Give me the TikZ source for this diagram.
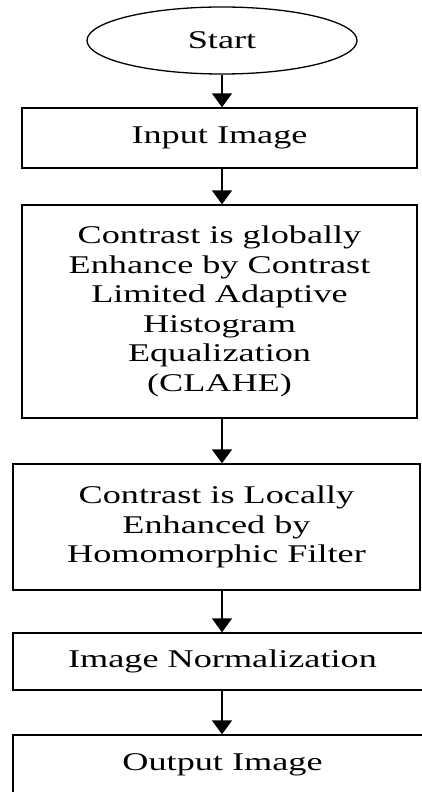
\documentclass[tikz,border=0pt]{standalone}
\usepackage{fontspec}
\setmainfont[FakeStretch=1.42]{Liberation Serif}
\usetikzlibrary{arrows.meta,shapes.geometric}
\begin{document}
\begin{tikzpicture}[x=1pt,y=1pt,
  txt/.style={font=\fontsize{25.5}{29.5}\selectfont, text=black, align=center},
  box/.style={txt, draw=black, line width=1.4pt, rectangle, inner sep=0pt},
  term/.style={txt, draw=black, line width=1.3pt, ellipse, inner sep=0pt},
  arr/.style={draw=black, line width=1.8pt, -{Triangle[width=20pt,length=14pt]}}]
\useasboundingbox (0,0) rectangle (422,-792);
\clip (0,0) rectangle (422,-792);
\node[term, minimum width=270pt, minimum height=67pt] (start) at (222,-40.5) {Start};
\node[box, minimum width=395pt, minimum height=60pt] (input) at (219.5,-138) {Input Image};
\node[box, minimum width=395pt, minimum height=213pt] (clahe) at (219.5,-311.5)
  {Contrast is globally\\Enhance by Contrast\\Limited Adaptive\\Histogram\\Equalization\\(CLAHE)};
\node[box, minimum width=407pt, minimum height=126pt] (homo) at (216.5,-527)
  {Contrast is Locally\\Enhanced by\\Homomorphic Filter};
\node[box, minimum width=419pt, minimum height=57pt] (norm) at (222.5,-661.5) {Image Normalization};
\node[box, minimum width=419pt, minimum height=59pt] (output) at (222.5,-764.5) {Output Image};
\draw[arr] (start.south) -- (start.south |- input.north);
\draw[arr] (input.south -| start.south) -- (start.south |- clahe.north);
\draw[arr] (clahe.south -| start.south) -- (start.south |- homo.north);
\draw[arr] (homo.south -| start.south) -- (start.south |- norm.north);
\draw[arr] (norm.south -| start.south) -- (start.south |- output.north);
\end{tikzpicture}
\end{document}
